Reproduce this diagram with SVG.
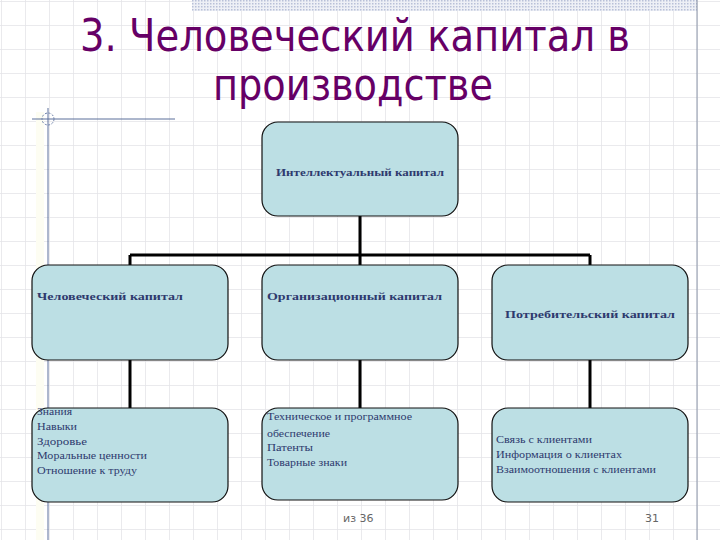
<svg xmlns="http://www.w3.org/2000/svg" width="720" height="540" viewBox="0 0 720 540">
<defs>
<pattern id="grid" width="24" height="24" patternUnits="userSpaceOnUse" x="1" y="1">
<path d="M0 0H24M0 0V24" stroke="#e4e4e8" stroke-width="1.5" fill="none"/>
</pattern>
<pattern id="dots" width="3" height="3" patternUnits="userSpaceOnUse">
<rect width="3" height="3" fill="#eef0f6"/>
<rect width="1.5" height="1.5" fill="#b8c0d8"/>
</pattern>
<style>
.box{fill:#bcdfe4;stroke:#111;stroke-width:1.2}
.conn{stroke:#000;stroke-width:3;fill:none}
.hd{font-family:"Liberation Serif",serif;font-weight:bold;font-size:11px;fill:#2e3a6e}
.it{font-family:"Liberation Serif",serif;font-size:10px;fill:#2e3a6e}
.title{font-family:"DejaVu Sans","Liberation Sans",sans-serif;font-size:44px;fill:#660066}
.ft{font-family:"DejaVu Sans","Liberation Sans",sans-serif;font-size:11px;fill:#666}
</style>
</defs>
<rect width="720" height="540" fill="#fff"/>
<rect width="720" height="540" fill="url(#grid)"/>
<rect x="192" y="0" width="505" height="11" fill="url(#dots)"/>
<line x1="697" y1="0" x2="697" y2="540" stroke="#8a94a8" stroke-width="1"/>
<rect x="36" y="112" width="8" height="428" fill="#fdfdf2"/>
<line x1="48" y1="108" x2="48" y2="540" stroke="#5a6e9a" stroke-width="1"/>
<line x1="32" y1="119" x2="175" y2="119" stroke="#5a6e9a" stroke-width="1"/>
<circle cx="48" cy="119" r="6" fill="none" stroke="#6a7ea8" stroke-width="1" stroke-dasharray="2 1.5"/>

<text class="title" x="355" y="51" text-anchor="middle" textLength="550" lengthAdjust="spacingAndGlyphs">3. Человеческий капитал в</text>
<text class="title" x="353" y="100" text-anchor="middle" textLength="280" lengthAdjust="spacingAndGlyphs">производстве</text>

<g id="connectors">
<path class="conn" d="M360 216V255M130 255H590M130 255V265M360 255V265M590 255V265"/>
<path class="conn" d="M130 360V408M360 360V408M590 360V408"/>
</g>

<g id="n-intellect">
<rect class="box" x="262" y="122" width="196" height="94" rx="16"/>
<text class="hd" x="360" y="176" text-anchor="middle" textLength="168" lengthAdjust="spacingAndGlyphs">Интеллектуальный капитал</text>
</g>
<g id="n-human">
<rect class="box" x="32" y="265" width="196" height="95" rx="16"/>
<text class="hd" x="37" y="300" textLength="146" lengthAdjust="spacingAndGlyphs">Человеческий капитал</text>
</g>
<g id="n-org">
<rect class="box" x="262" y="265" width="196" height="95" rx="16"/>
<text class="hd" x="267" y="300" textLength="175" lengthAdjust="spacingAndGlyphs">Организационный капитал</text>
</g>
<g id="n-consumer">
<rect class="box" x="492" y="265" width="196" height="95" rx="16"/>
<text class="hd" x="590" y="318" text-anchor="middle" textLength="170" lengthAdjust="spacingAndGlyphs">Потребительский капитал</text>
</g>
<g id="n-human-items">
<rect class="box" x="32" y="408" width="196" height="94" rx="16"/>
<text class="it" x="37" y="415" textLength="35" lengthAdjust="spacingAndGlyphs">Знания</text>
<text class="it" x="37" y="430" textLength="40" lengthAdjust="spacingAndGlyphs">Навыки</text>
<text class="it" x="37" y="445" textLength="50" lengthAdjust="spacingAndGlyphs">Здоровье</text>
<text class="it" x="37" y="459" textLength="110" lengthAdjust="spacingAndGlyphs">Моральные ценности</text>
<text class="it" x="37" y="474" textLength="100" lengthAdjust="spacingAndGlyphs">Отношение к труду</text>
</g>
<g id="n-org-items">
<rect class="box" x="262" y="408" width="196" height="92" rx="16"/>
<text class="it" x="267" y="420" textLength="145" lengthAdjust="spacingAndGlyphs">Техническое и программное</text>
<text class="it" x="267" y="437" textLength="63" lengthAdjust="spacingAndGlyphs">обеспечение</text>
<text class="it" x="267" y="451" textLength="46" lengthAdjust="spacingAndGlyphs">Патенты</text>
<text class="it" x="267" y="466" textLength="80" lengthAdjust="spacingAndGlyphs">Товарные знаки</text>
</g>
<g id="n-consumer-items">
<rect class="box" x="492" y="408" width="196" height="94" rx="16"/>
<text class="it" x="496" y="443" textLength="96" lengthAdjust="spacingAndGlyphs">Связь с клиентами</text>
<text class="it" x="496" y="458" textLength="126" lengthAdjust="spacingAndGlyphs">Информация о клиентах</text>
<text class="it" x="496" y="473" textLength="160" lengthAdjust="spacingAndGlyphs">Взаимоотношения с клиентами</text>
</g>

<text class="ft" x="343" y="522">из 36</text>
<text class="ft" x="645" y="522">31</text>
</svg>
